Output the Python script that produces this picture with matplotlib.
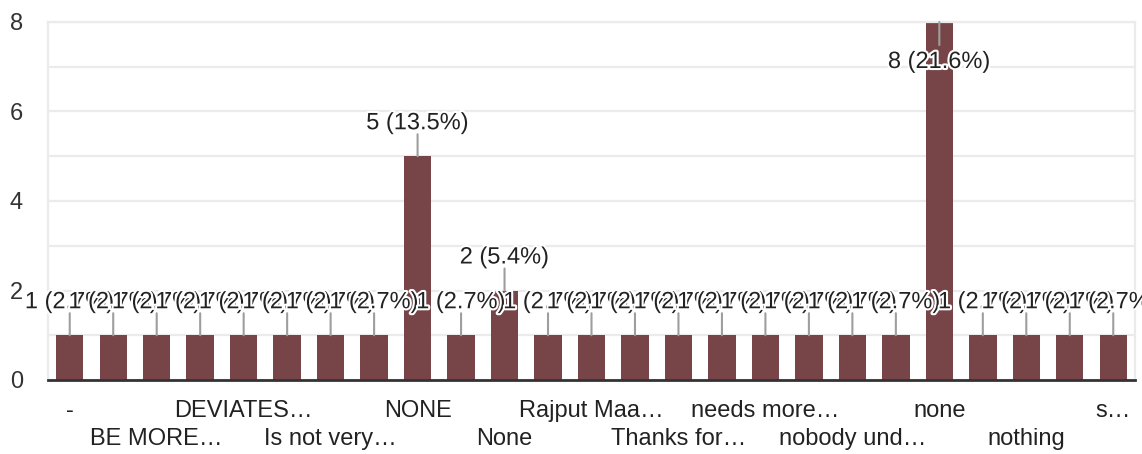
"""Survey responses bar chart (Google Forms style)"""

import matplotlib.pyplot as plt
import matplotlib.patheffects as pe

plt.rcParams["font.family"] = ["Liberation Sans", "DejaVu Sans"]

# answers in the order shown; None = category whose label is not displayed
categories = [
    "-", None, "BE MORE…", None, "DEVIATES…", None, "Is not very…", None,
    "NONE", None, "None", None, "Rajput Maa…", None, "Thanks for…", None,
    "needs more…", None, "nobody und…", None, "none", None, "nothing", None,
    "s…",
]
counts = [1, 1, 1, 1, 1, 1, 1, 1, 5, 1, 2, 1, 1, 1, 1, 1, 1, 1, 1, 1, 8, 1, 1, 1, 1]
y_ticks = [0, 2, 4, 6, 8]

BAR = "#774547"
STEM = "#9e9e9e"
TEXT = "#222222"

total = sum(counts)
x = list(range(len(counts)))

fig = plt.figure(figsize=(11.42, 4.54), dpi=100)
ax = fig.add_axes([48 / 1142, 74 / 454, 1087 / 1142, 358 / 454])

ax.bar(x, counts, width=0.63, color=BAR, zorder=2)

ax.set_xlim(-0.5, len(counts) - 0.5)
ax.set_ylim(0, max(counts))
ax.set_yticks(y_ticks)
ax.set_yticks(range(0, max(counts) + 1), minor=True)
ax.grid(axis="y", which="both", color="#ebebeb", lw=1.6, zorder=0)
ax.tick_params(axis="y", which="both", length=0, pad=18, labelsize=17, labelcolor="#333333")
ax.set_xticks([])

for side in ("left", "right", "top"):
    ax.spines[side].set_color("#ebebeb")
    ax.spines[side].set_linewidth(1.6)
ax.spines["bottom"].set_color("#333333")
ax.spines["bottom"].set_linewidth(2)
ax.spines["bottom"].set_zorder(3)

halo = [pe.withStroke(linewidth=3, foreground="white")]
top = max(counts)
for xi, v in zip(x, counts):
    label = f"{v} ({v / total * 100:.1f}%)"
    if v == top:
        stem_dy, text_dy = -23, -46
    else:
        stem_dy, text_dy = 22, 27
    ax.annotate(
        "", xy=(xi, v), xytext=(0, stem_dy), textcoords="offset pixels",
        arrowprops=dict(arrowstyle="-", color=STEM, lw=1.5, shrinkA=0, shrinkB=0),
        annotation_clip=False, zorder=4,
    )
    ax.annotate(
        label, xy=(xi, v), xytext=(0, text_dy), textcoords="offset pixels",
        ha="center", va="baseline", fontsize=17, color=TEXT,
        path_effects=halo, annotation_clip=False, zorder=5,
    )

# category labels on two alternating rows
row = 0
for xi, name in zip(x, categories):
    if name is None:
        continue
    ax.annotate(
        name, xy=(xi, 0), xycoords=("data", "axes fraction"),
        xytext=(0, -37 if row == 0 else -65), textcoords="offset pixels",
        ha="center", va="baseline", fontsize=17, color=TEXT,
        annotation_clip=False,
    )
    row = 1 - row

fig.savefig("out.png", dpi=100)
